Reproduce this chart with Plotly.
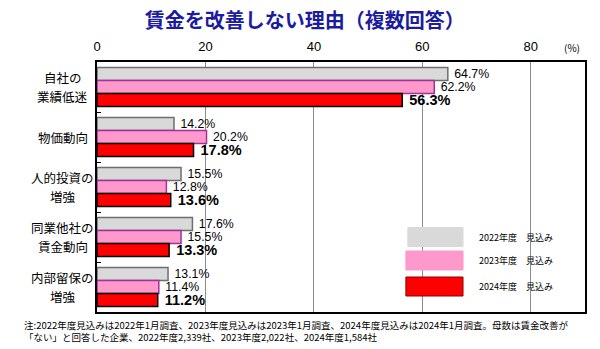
import plotly.graph_objects as go

categories = ["自社の業績低迷", "物価動向", "人的投資の増強", "同業他社の賃金動向", "内部留保の増強"]
cat_labels = ["自社の<br>業績低迷", "物価動向", "人的投資の<br>増強", "同業他社の<br>賃金動向", "内部留保の<br>増強"]
v2022 = [64.7, 14.2, 15.5, 17.6, 13.1]
v2023 = [62.2, 20.2, 12.8, 15.5, 11.4]
v2024 = [56.3, 17.8, 13.6, 13.3, 11.2]
series_names = ["2022年度\u3000見込み", "2023年度\u3000見込み", "2024年度\u3000見込み"]
x_ticks = [0, 20, 40, 60, 80]

FONT = "Liberation Sans, Arial, Noto Sans CJK JP"
JP = "Noto Sans CJK JP, sans-serif"

fills = ["#D9D9D9", "#FF99CC", "#FF0000"]
lines = ["#6E6E6E", "#A0329A", "#000000"]

fig = go.Figure()
for vals, name, fc, lc, big in zip([v2022, v2023, v2024], series_names, fills, lines, [False, False, True]):
    fig.add_trace(go.Bar(
        y=categories, x=vals, name=name, orientation="h",
        marker=dict(color=fc, line=dict(color=lc, width=1.5)),
        texttemplate="\u00a0%{x:.1f}%", textposition="outside", cliponaxis=False,
        constraintext="none",
        textfont=dict(family=FONT, size=14.5 if big else 12.3, color="#000000",
                      weight="bold" if big else "normal"),
        showlegend=False,
    ))

annotations = []
for c, lab in zip(categories, cat_labels):
    parts = lab.split("<br>")
    n = len(parts)
    for i, p in enumerate(parts):
        shift = ((n - 1) / 2 - i) * 19
        annotations.append(dict(x=-0.07, xref="paper", y=c, yref="y", text=p, showarrow=False,
                                xanchor="center", yanchor="middle", align="center", yshift=shift,
                                font=dict(family=JP, size=12.5, color="#000000")))

# legend boxes (paper coords)
leg_boxes = [(0.637, 0.262, 0.750, 0.338), (0.633, 0.168, 0.750, 0.244), (0.633, 0.064, 0.750, 0.140)]
shapes = []
for (x0, y0, x1, y1), fc, lc, name in zip(leg_boxes, fills, ["#D9D9D9", "#FF99CC", "#8B0000"], series_names):
    shapes.append(dict(type="rect", xref="paper", yref="paper", x0=x0, y0=y0, x1=x1, y1=y1,
                       fillcolor=fc, line=dict(color=lc, width=1)))
    annotations.append(dict(x=0.778, xref="paper", y=(y0 + y1) / 2, yref="paper", text=name,
                            showarrow=False, xanchor="left", yanchor="middle",
                            font=dict(family=JP, size=9, color="#000000")))

annotations.append(dict(x=(572 - 97) / 488, xref="paper", y=1 + (62 - 48) / 250, yref="paper",
                        text="(%)", showarrow=False, xanchor="center", yanchor="middle",
                        font=dict(family=JP, size=10, color="#000000")))

annotations.append(dict(x=(22 - 97) / 488, xref="paper", y=-(316 - 312) / 250, yref="paper",
                        text="注:2022年度見込みは2022年1月調査、2023年度見込みは2023年1月調査、2024年度見込みは2024年1月調査。母数は賃金改善が<br>「ない」と回答した企業、2022年度2,339社、2023年度2,022社、2024年度1,584社",
                        showarrow=False, xanchor="left", yanchor="top", align="left",
                        font=dict(family=JP, size=9.5, color="#000000")))

fig.update_layout(
    width=600, height=349,
    margin=dict(l=97, r=15, t=62, b=37),
    paper_bgcolor="white", plot_bgcolor="white",
    barmode="group", bargap=0.22, bargroupgap=0.0,
    title=dict(text="<b>賃金を改善しない理由（複数回答）</b>", x=0.508, xanchor="center",
               y=1 - 21 / 349, yanchor="middle",
               font=dict(family=JP, size=20, color="#1C1C9E")),
    xaxis=dict(range=[0, 90], side="top", tickvals=x_ticks, ticktext=[str(t) for t in x_ticks],
               showgrid=True, gridcolor="#8C8C8C", gridwidth=1, zeroline=False,
               showline=True, linecolor="#000000", linewidth=1.5, mirror=True,
               ticks="", ticklabelstandoff=4,
               tickfont=dict(family=FONT, size=13, color="#000000"), fixedrange=True),
    yaxis=dict(autorange="reversed", showticklabels=False, tickson="boundaries", ticks="inside",
               ticklen=4, tickcolor="#000000", showline=True, linecolor="#000000", linewidth=1.5,
               mirror=True, showgrid=False),
    shapes=shapes, annotations=annotations,
)

fig.write_html("out.html")
